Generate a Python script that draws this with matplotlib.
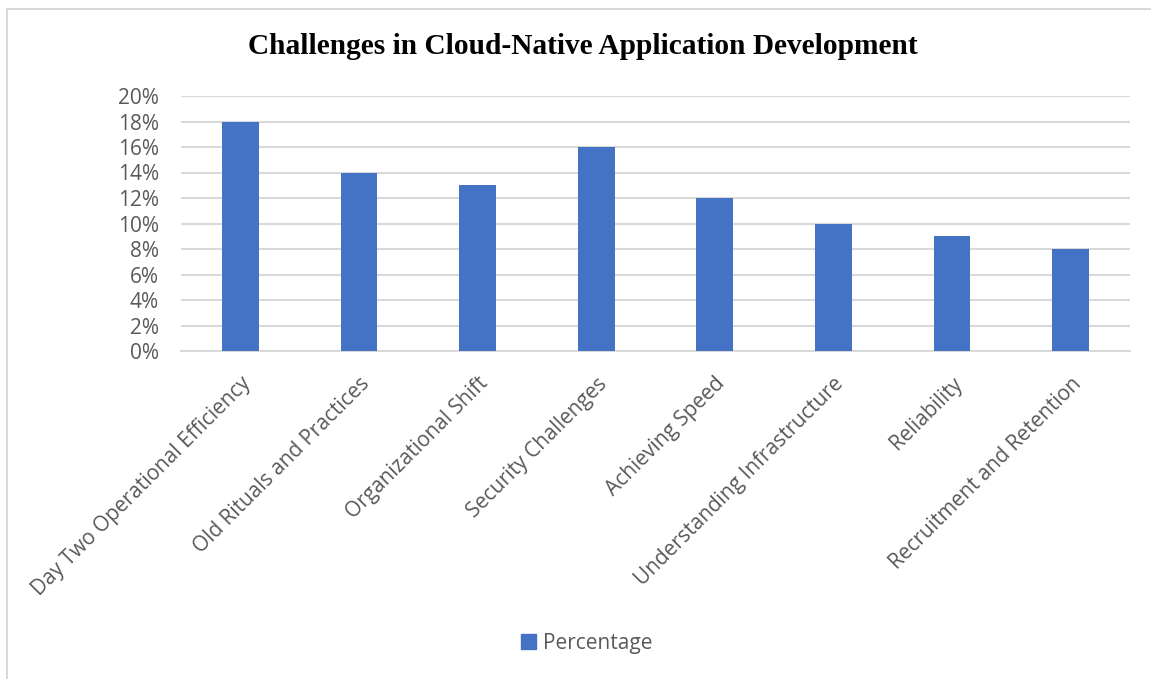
import numpy as np
import matplotlib.pyplot as plt
from matplotlib.lines import Line2D
from matplotlib.patches import Patch
from matplotlib.ticker import FuncFormatter

# chart data
categories = [
    "Day Two Operational Efficiency",
    "Old Rituals and Practices",
    "Organizational Shift",
    "Security Challenges",
    "Achieving Speed",
    "Understanding Infrastructure",
    "Reliability",
    "Recruitment and Retention",
]
percentages = [0.18, 0.14, 0.13, 0.16, 0.12, 0.10, 0.09, 0.08]
y_ticks = [0.00, 0.02, 0.04, 0.06, 0.08, 0.10, 0.12, 0.14, 0.16, 0.18, 0.20]

bar_color = "#4472c4"
text_color = "#595959"
grid_color = "#d9d9d9"
label_font = "Open Sans"

fig = plt.figure(figsize=(11.51, 6.79), dpi=100)
ax = fig.add_axes((181 / 1151, 1 - 351 / 679, 949 / 1151, 255 / 679))

# chart border (top and left visible in the reference)
fig.add_artist(Line2D([7 / 1151, 7 / 1151], [0, 1 - 9 / 679], color=grid_color, lw=1.5, transform=fig.transFigure))
fig.add_artist(Line2D([7 / 1151, 1], [1 - 9 / 679, 1 - 9 / 679], color=grid_color, lw=1.5, transform=fig.transFigure))

x = np.arange(len(categories))
ax.bar(x, percentages, width=0.31, color=bar_color, zorder=3)

ax.set_xlim(-0.5, len(categories) - 0.5)
ax.set_ylim(0, 0.20)
ax.set_yticks(y_ticks)
ax.yaxis.set_major_formatter(FuncFormatter(lambda v, _: f"{v * 100:.0f}%"))
ax.grid(axis="y", color=grid_color, lw=1.5, zorder=0)
ax.tick_params(axis="both", length=0, colors=text_color, labelsize=15)
ax.tick_params(axis="y", pad=16)
ax.tick_params(axis="x", pad=16)
ax.set_xticks(x)
ax.set_xticklabels(categories, rotation=45, ha="right", rotation_mode="anchor",
                   fontsize=15, color=text_color, family=label_font)
for lab in ax.get_yticklabels():
    lab.set_family(label_font)

for side in ["top", "right", "left"]:
    ax.spines[side].set_visible(False)
ax.spines["bottom"].set_color(grid_color)
ax.spines["bottom"].set_linewidth(1.5)

fig.text(583 / 1151, 1 - 47 / 679, "Challenges in Cloud-Native Application Development",
         ha="center", va="center", fontsize=21.2, fontweight="bold", family="Liberation Serif")

fig.legend(handles=[Patch(color=bar_color, label="Percentage")], loc="center",
           bbox_to_anchor=(587 / 1151, 1 - 643 / 679), frameon=False,
           prop={"family": label_font, "size": 15}, labelcolor=text_color,
           handlelength=0.7, handleheight=0.7, handletextpad=0.35)

fig.savefig("out.png", dpi=100, facecolor="white")
